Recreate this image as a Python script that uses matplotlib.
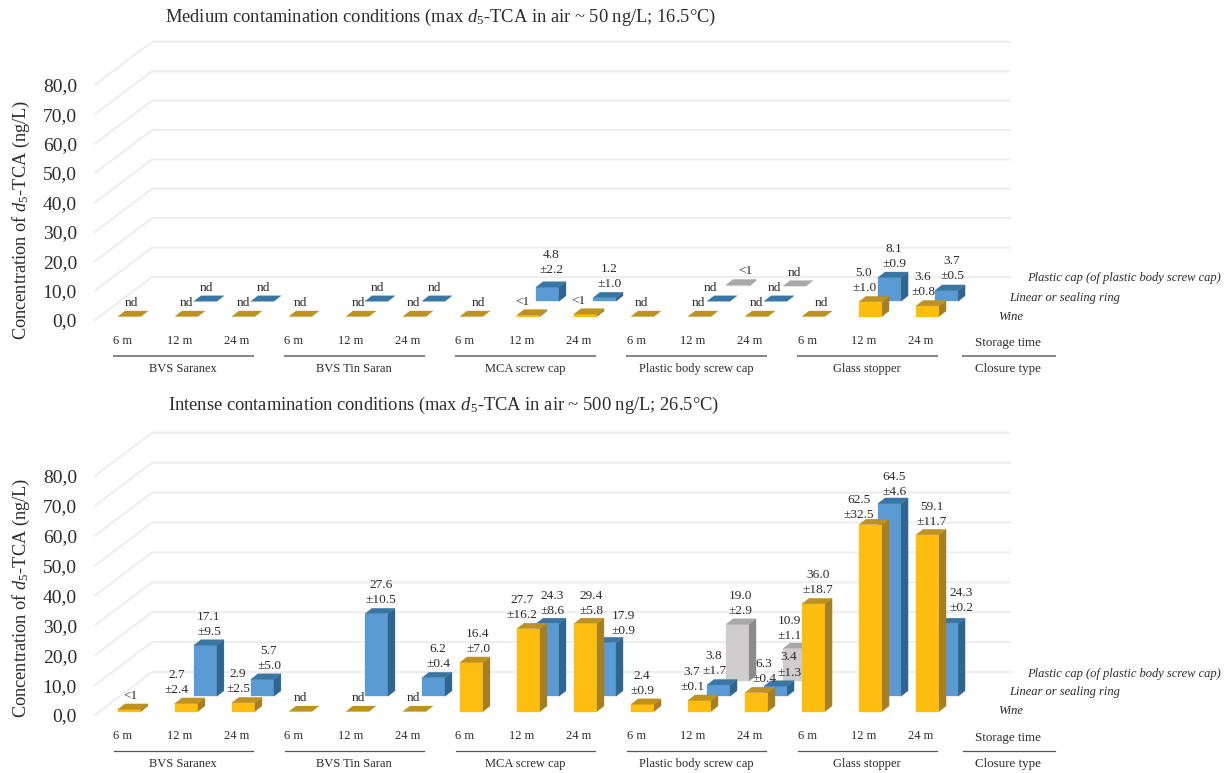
import matplotlib
matplotlib.use("Agg")
import matplotlib.pyplot as plt
from matplotlib.patches import Polygon

plt.rcParams['font.family'] = ['Liberation Serif', 'DejaVu Serif']
plt.rcParams['mathtext.fontset'] = 'custom'
plt.rcParams['mathtext.rm'] = 'Liberation Serif'
plt.rcParams['mathtext.it'] = 'Liberation Serif:italic'

W, H = 1229, 773

# Data
months = ["6 m", "12 m", "24 m"] * 5
closures = ["BVS Saranex", "BVS Tin Saran", "MCA screw cap", "Plastic body screw cap", "Glass stopper"]
series_names = ["Wine", "Linear or sealing ring", "Plastic cap (of plastic body screw cap)"]
y_ticks = [0, 10, 20, 30, 40, 50, 60, 70, 80]

# None = no bar, 0 = nd, small numbers = <1
med_wine = [0, 0, 0, 0, 0, 0, 0, 0.5, 0.8, 0, 0, 0, 0, 5.0, 3.6]
med_wine_txt = ["nd", "nd", "nd", "nd", "nd", "nd", "nd", "<1", "<1", "nd", "nd", "nd", "nd", "5.0\n±1.0", "3.6\n±0.8"]
med_ring = [None, 0, 0, None, 0, 0, None, 4.8, 1.2, None, 0, 0, None, 8.1, 3.7]
med_ring_txt = ["", "nd", "nd", "", "nd", "nd", "", "4.8\n±2.2", "1.2\n±1.0", "", "nd", "nd", "", "8.1\n±0.9", "3.7\n±0.5"]
med_cap = [None] * 10 + [0.4, 0] + [None] * 3
med_cap_txt = [""] * 10 + ["<1", "nd"] + [""] * 3

int_wine = [0.7, 2.7, 2.9, 0, 0, 0, 16.4, 27.7, 29.4, 2.4, 3.7, 6.3, 36.0, 62.5, 59.1]
int_wine_txt = ["<1", "2.7\n±2.4", "2.9\n±2.5", "nd", "nd", "nd", "16.4\n±7.0", "27.7\n±16.2", "29.4\n±5.8",
                "2.4\n±0.9", "3.7\n±0.1", "6.3\n±0.4", "36.0\n±18.7", "62.5\n±32.5", "59.1\n±11.7"]
int_ring = [None, 17.1, 5.7, None, 27.6, 6.2, None, 24.3, 17.9, None, 3.8, 3.4, None, 64.5, 24.3]
int_ring_txt = ["", "17.1\n±9.5", "5.7\n±5.0", "", "27.6\n±10.5", "6.2\n±0.4", "", "24.3\n±8.6", "17.9\n±0.9",
                "", "3.8\n±1.7", "3.4\n±1.3", "", "64.5\n±4.6", "24.3\n±0.2"]
int_cap = [None] * 10 + [19.0, 10.9] + [None] * 3
int_cap_txt = [""] * 10 + ["19.0\n±2.9", "10.9\n±1.1"] + [""] * 3

# label nudges in pixels, (series, position): (dx, dy)
med_nudge = {(0, 0): (-2, 0), (0, 1): (-4, 0), (0, 2): (-4, 0), (0, 3): (-4, 0), (0, 4): (-3, 0), (0, 5): (-5, 0),
             (0, 6): (3, 0), (0, 7): (-10, 0), (0, 8): (-11, 0), (0, 9): (-5, 0), (0, 10): (-5, 0), (0, 11): (-4, 0),
             (0, 12): (4, 0), (0, 13): (-10, 0), (0, 14): (-8, 0),
             (1, 1): (-3, 0), (1, 2): (-3, 0), (1, 4): (-3, 0), (1, 5): (-3, 0), (1, 7): (0, 4), (1, 8): (1, 0),
             (1, 10): (-12, 0), (1, 11): (-5, 0), (1, 13): (1, 0), (1, 14): (2, 1),
             (2, 10): (4, 0), (2, 11): (-4, 0)}
int_nudge = {(0, 0): (-2, 0), (0, 1): (-13, 0), (0, 2): (-9, 0), (0, 3): (-4, 0), (0, 4): (-3, 0), (0, 5): (-5, 0),
             (0, 6): (3, 0), (0, 7): (-10, 0), (0, 8): (2, -1), (0, 9): (-4, 0), (0, 10): (-11, 0), (0, 11): (4, 0),
             (0, 12): (1, 0), (0, 13): (-15, -4), (0, 14): (1, -1),
             (1, 2): (3, 0), (1, 4): (1, 0), (1, 5): (1, 0), (1, 7): (1, -1), (1, 8): (15, -2),
             (1, 10): (-8, 0), (1, 11): (10, 0), (1, 13): (1, -2), (1, 14): (11, 2),
             (2, 10): (-1, 0), (2, 11): (-9, -1)}

colors = [("#FDBE10", "#BD921F", "#A67F24"),
          ("#5A9BD3", "#3A76A4", "#2F6690"),
          ("#CFCDCD", "#A9A8A8", "#8B8B8B")]

TXT = "#2b2b2b"
BAR_W = 23 / 57
SIDE_X = 7 / 57
STEP_X = 19 / 57
LEFT = -5 / 57


def draw_bar(ax, k, j, val, ppu):
    x0 = k + LEFT + j * STEP_X
    x1 = x0 + BAR_W
    y0 = (3.5 + 15.2 * j) / ppu
    y1 = y0 + val
    dy = 5.5 / ppu
    z = 2 + j * -0.1
    front, top, side = colors[j]
    if val > 0:
        ax.add_patch(Polygon([(x0, y0), (x1, y0), (x1, y1), (x0, y1)], fc=front, ec=front, lw=0.2, zorder=z))
        ax.add_patch(Polygon([(x1, y0), (x1 + SIDE_X, y0 + dy), (x1 + SIDE_X, y1 + dy), (x1, y1)],
                             fc=side, ec=side, lw=0.2, zorder=z))
    ax.add_patch(Polygon([(x0, y1), (x1, y1), (x1 + SIDE_X, y1 + dy), (x0 + SIDE_X, y1 + dy)],
                         fc=top, ec=top, lw=0.2, zorder=z))
    return (x0 + x1 + SIDE_X) / 2, y1 + dy


def panel(bottom_px, ppu, title, title_xy, ylabel_y, series, nudges, line_c, line_w):
    ax = fig.add_axes([95 / W, 1 - bottom_px / H, 915 / W, 290 / H])
    ax.patch.set_alpha(0)
    ax.set_xlim(-0.49, 15.56)
    ax.set_ylim(0, 290 / ppu)
    for s in ax.spines.values():
        s.set_visible(False)

    # back wall and floor lines
    back_y = 43 / ppu
    for v in y_ticks:
        ax.plot([-0.49, 0.51, 15.56], [v, v + back_y, v + back_y], color="#eeeeee", lw=1.5, zorder=1,
                clip_on=False, solid_joinstyle="miter")

    ax.set_yticks(y_ticks)
    ax.set_yticklabels(["%d,0" % v for v in y_ticks], fontsize=14, color=TXT)
    ax.set_xticks(range(15))
    ax.set_xticklabels(months, fontsize=9, color=TXT)
    ax.tick_params(axis="x", length=0, pad=11)
    ax.tick_params(axis="y", length=0, pad=13)

    ax.set_ylabel(r"Concentration of $d_5$-TCA (ng/L)", fontsize=13.2, color=TXT)
    ax.yaxis.set_label_coords(-63 / 915, ylabel_y)

    fig.text(title_xy[0] / W, 1 - title_xy[1] / H, title, fontsize=13.3, color=TXT, va="center")

    # bars back to front
    texts = []
    for j in [2, 1, 0]:
        vals, labels = series[j]
        for k, val in enumerate(vals):
            if val is None:
                continue
            cx, top = draw_bar(ax, k, j, val, ppu)
            dx, dy = nudges.get((j, k), (0, 0))
            texts.append((labels[k], cx, top, dx, dy))
    for lab, cx, top, dx, dy in texts:
        ax.annotate(lab, (cx, top), xytext=(dx, 2 + dy), textcoords="offset pixels", ha="center", va="bottom",
                    fontsize=9.6, color=TXT, linespacing=1.35, zorder=10, annotation_clip=False)

    # closure type lines and labels
    tr = ax.get_xaxis_transform()
    for g, name in enumerate(closures):
        ax.plot([g * 3 - 0.16, g * 3 + 2.28], [-36 / 290, -36 / 290], transform=tr, color=line_c, lw=line_w, clip_on=False)
        ax.text(g * 3 + 1.05, -49 / 290, name, transform=tr, ha="center", va="center", fontsize=9, color=TXT)
    ax.plot([14.74, 16.35], [-36 / 290, -36 / 290], transform=tr, color=line_c, lw=line_w, clip_on=False)
    ax.text(15.53, -23 / 290, "Storage time", transform=tr, ha="center", va="center", fontsize=9.4, color=TXT)
    ax.text(15.53, -49 / 290, "Closure type", transform=tr, ha="center", va="center", fontsize=9.4, color=TXT)

    # series names next to the floor
    for j, (xk, py) in enumerate([(15.35, 3.5), (15.55, 22.5), (15.86, 41.5)]):
        ax.text(xk, py / ppu, series_names[j], ha="left", va="center", fontsize=9, style="italic", color=TXT,
                clip_on=False)


fig = plt.figure(figsize=(W / 100, H / 100), dpi=100)

panel(320, 2.94, r"Medium contamination conditions (max $d_5$-TCA in air ~ 50 ng/L; 16.5°C)", (165, 17), 0.345,
      [(med_wine, med_wine_txt), (med_ring, med_ring_txt), (med_cap, med_cap_txt)], med_nudge, "#8a8a8a", 1.5)
panel(715, 2.99, r"Intense contamination conditions (max $d_5$-TCA in air ~ 500 ng/L; 26.5°C)", (168, 405), 0.403,
      [(int_wine, int_wine_txt), (int_ring, int_ring_txt), (int_cap, int_cap_txt)], int_nudge, "#555555", 0.9)

fig.savefig("out.png", dpi=100)
